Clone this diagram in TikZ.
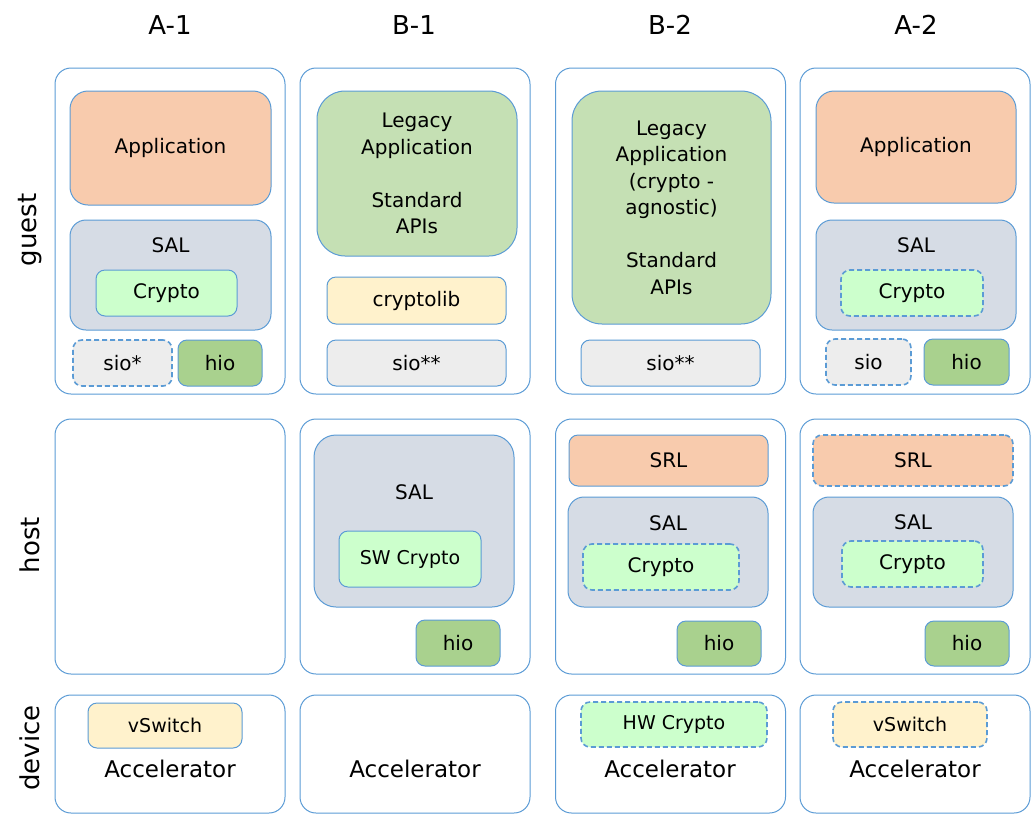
\documentclass[tikz,border=0pt]{standalone}
\usepackage{fontspec}
\setmainfont{DejaVu Sans}
\definecolor{bordc}{HTML}{5B9BD5}
\definecolor{appc}{HTML}{F8CBAD}
\definecolor{salc}{HTML}{D6DCE5}
\definecolor{cryc}{HTML}{CCFFCC}
\definecolor{sioc}{HTML}{EDEDED}
\definecolor{hioc}{HTML}{A9D18E}
\definecolor{legc}{HTML}{C5E0B4}
\definecolor{libc}{HTML}{FFF2CC}

\begin{document}
\begin{tikzpicture}[
        x=1pt, y=-1pt,
        outer/.style={draw=bordc, line width=1pt, rounded corners=16pt, inner sep=0pt},
        blk/.style={draw=bordc, line width=1pt, rounded corners=9pt, inner sep=0pt, align=center,
                    font=\fontsize{20}{26.5}\selectfont},
        dsh/.style={dash pattern=on 5pt off 3pt, line width=1.6pt},
        sz/.style 2 args={minimum width=#1pt, minimum height=#2pt},
        head/.style={font=\fontsize{26}{30}\selectfont},
        rowlbl/.style={font=\fontsize{26}{30}\selectfont, rotate=90},
        txt/.style={font=\fontsize{20}{26.5}\selectfont},
        acc/.style={font=\fontsize{23}{28}\selectfont},
        small/.style={font=\fontsize{19}{22}\selectfont}
        ]
        \useasboundingbox (0,0) rectangle (1031,815);

        % headers and row labels
        \node [head] (hA1) at (170,25) {A-1};
        \node [head] (hB1) at (414,25) {B-1};
        \node [head] (hB2) at (670,25) {B-2};
        \node [head] (hA2) at (916,25) {A-2};
        \node [rowlbl] (lguest)  at (30,230) {guest};
        \node [rowlbl] (lhost)   at (30,545) {host};
        \node [rowlbl] (ldevice) at (30,748) {device};

        % outer frames
        \foreach \cx/\col in {170/A1, 415/B1, 670.5/B2, 915/A2} {
            \node [outer, sz={230}{326}] (g\col) at (\cx,231) {};
            \node [outer, sz={230}{255}] (h\col) at (\cx,546.5) {};
            \node [outer, sz={230}{118}] (d\col) at (\cx,754) {};
        }

        % A-1 guest
        \node [blk, sz={201}{114}, fill=appc, rounded corners=18pt] (appA1) at (170.5,148) {Application};
        \node [blk, sz={201}{110}, fill=salc, rounded corners=16pt] (salA1) at (170.5,275) {};
        \node [txt] (salA1t) at (170.5,245) {SAL};
        \node [blk, sz={141}{46}, fill=cryc] (cryA1) at (166.5,293) {Crypto};
        \node [blk, dsh, sz={99}{46}, fill=sioc] (sioA1) at (122.5,363) {sio*};
        \node [blk, sz={84}{46}, fill=hioc] (hioA1) at (220,363) {hio};

        % B-1 guest
        \node [blk, sz={200}{165}, fill=legc, rounded corners=28pt] (legB1) at (417,173.5)
            {Legacy\\Application\\[26.5pt]Standard\\APIs};
        \node [blk, sz={179}{47}, fill=libc] (libB1) at (416.5,300.5) {cryptolib};
        \node [blk, sz={179}{46}, fill=sioc] (sioB1) at (416.5,363) {sio**};

        % B-2 guest
        \node [blk, sz={199}{233}, fill=legc, rounded corners=30pt] (legB2) at (671.5,207.5)
            {Legacy\\Application\\(crypto -\\agnostic)\\[26.5pt]Standard\\APIs};
        \node [blk, sz={179}{46}, fill=sioc] (sioB2) at (670.5,363) {sio**};

        % A-2 guest
        \node [blk, sz={200}{112}, fill=appc, rounded corners=18pt] (appA2) at (916,147) {Application};
        \node [blk, sz={200}{110}, fill=salc, rounded corners=16pt] (salA2) at (916,275) {};
        \node [txt] (salA2t) at (916,245) {SAL};
        \node [blk, dsh, sz={142}{46}, fill=cryc] (cryA2) at (912,293) {Crypto};
        \node [blk, dsh, sz={85}{46}, fill=sioc] (sioA2) at (868.5,362) {sio};
        \node [blk, sz={85}{46}, fill=hioc] (hioA2) at (966.5,362) {hio};

        % B-1 host
        \node [blk, sz={200}{172}, fill=salc, rounded corners=22pt] (hsalB1) at (414,521) {};
        \node [txt] (hsalB1t) at (414,492) {SAL};
        \node [blk, small, sz={142}{56}, fill=cryc] (swB1) at (410,559) {SW Crypto};
        \node [blk, sz={84}{46}, fill=hioc] (hhioB1) at (458,643) {hio};

        % B-2 host
        \node [blk, sz={199}{51}, fill=appc] (srlB2) at (668.5,460.5) {SRL};
        \node [blk, sz={200}{110}, fill=salc, rounded corners=16pt] (hsalB2) at (668,552) {};
        \node [txt] (hsalB2t) at (668,523) {SAL};
        \node [blk, dsh, sz={156}{46}, fill=cryc] (hcryB2) at (661,567) {Crypto};
        \node [blk, sz={84}{45}, fill=hioc] (hhioB2) at (719,643.5) {hio};

        % A-2 host
        \node [blk, dsh, sz={200}{51}, fill=appc] (srlA2) at (913,460.5) {SRL};
        \node [blk, sz={200}{110}, fill=salc, rounded corners=16pt] (hsalA2) at (913,552) {};
        \node [txt] (hsalA2t) at (913,522) {SAL};
        \node [blk, dsh, sz={141}{46}, fill=cryc] (hcryA2) at (912.5,564) {Crypto};
        \node [blk, sz={84}{45}, fill=hioc] (hhioA2) at (967,643.5) {hio};

        % devices
        \node [blk, small, sz={154}{45}, fill=libc] (vswA1) at (165,725.5) {vSwitch};
        \node [blk, dsh, small, sz={186}{45}, fill=cryc] (hwB2) at (674,724.5) {HW Crypto};
        \node [blk, dsh, small, sz={154}{45}, fill=libc] (vswA2) at (910,724.5) {vSwitch};
        \foreach \cx/\col in {170/A1, 415/B1, 670/B2, 915/A2}
            \node [acc] (acc\col) at (\cx,769) {Accelerator};
    \end{tikzpicture}
\end{document}
